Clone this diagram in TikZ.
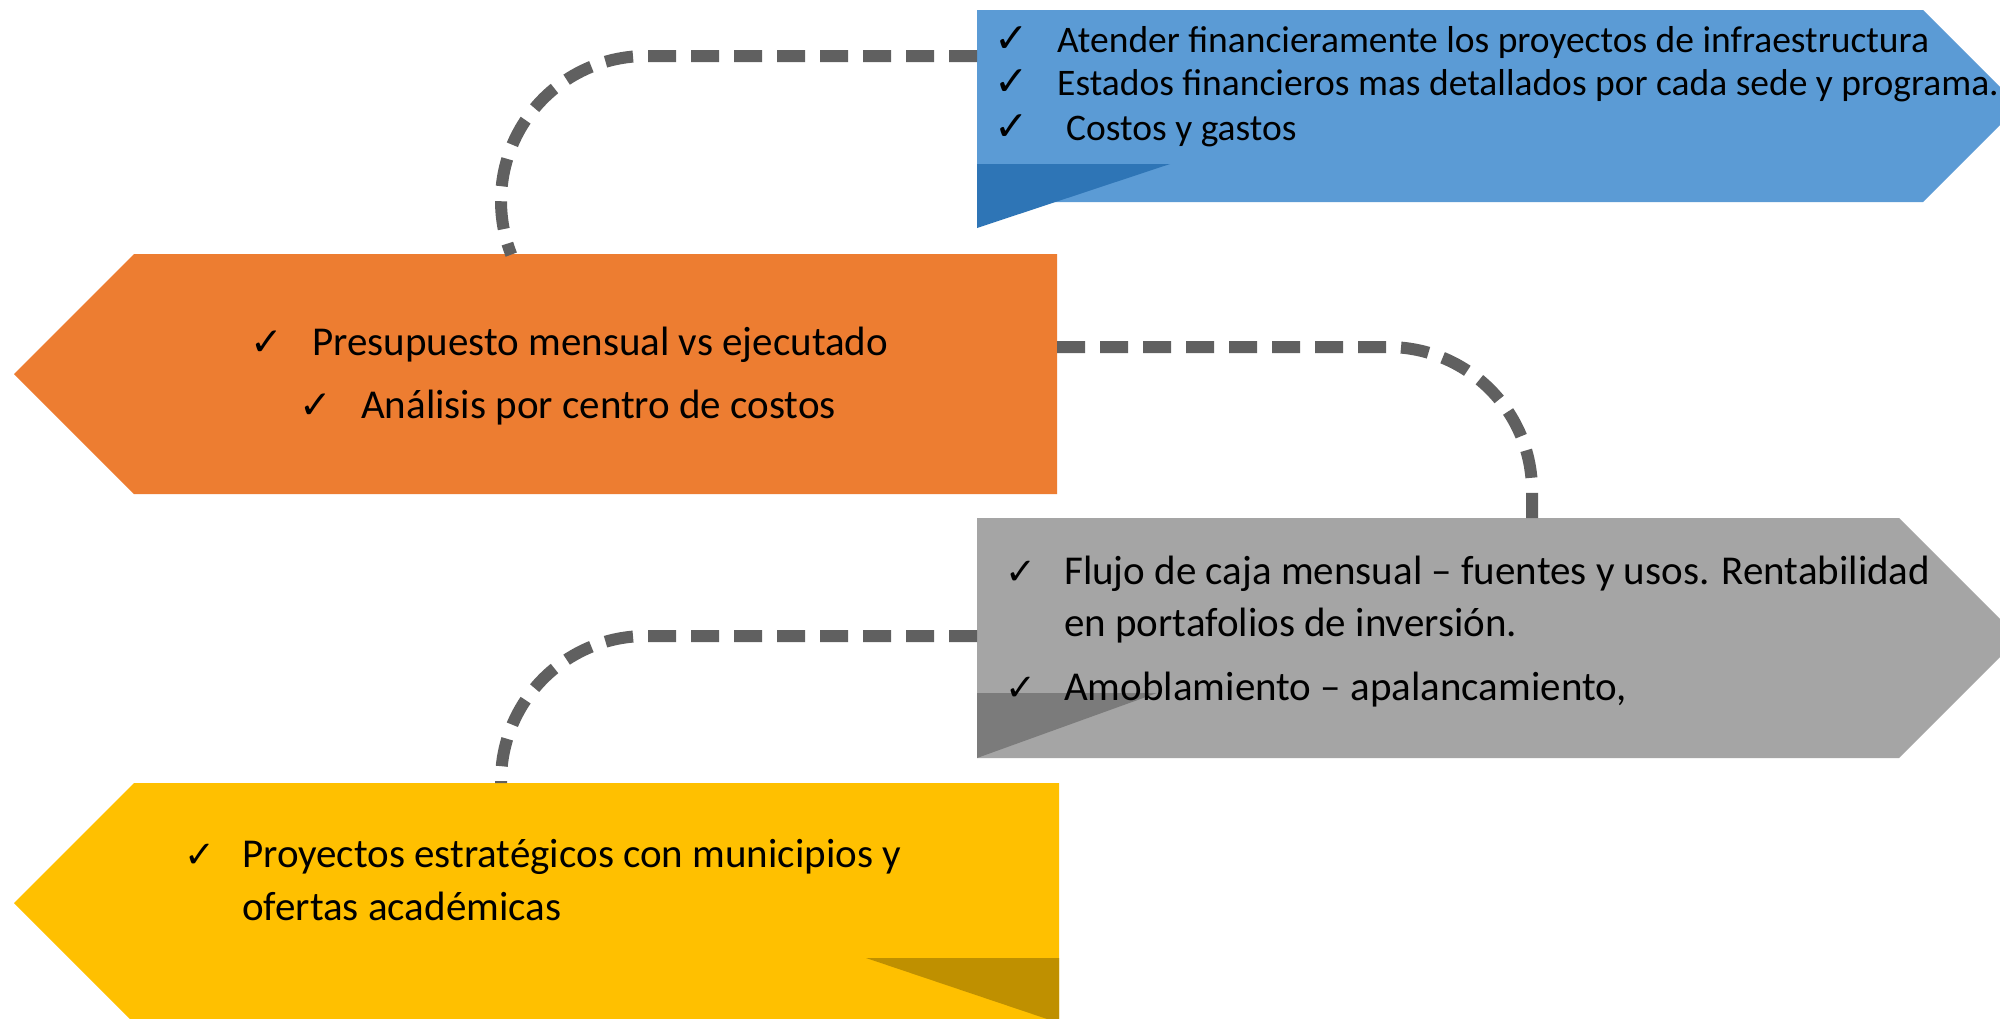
\documentclass[tikz,border=0pt]{standalone}
\usepackage{fontspec}
\setmainfont{Carlito}
\newfontfamily\chkfont{DejaVu Sans}
\usetikzlibrary{calc}
\definecolor{blueC}{HTML}{5B9BD5}
\definecolor{blueD}{HTML}{2E75B6}
\definecolor{orangeC}{HTML}{ED7D31}
\definecolor{grayC}{HTML}{A5A5A5}
\definecolor{grayD}{HTML}{7B7B7B}
\definecolor{yellowC}{HTML}{FFC000}
\definecolor{yellowD}{HTML}{BF9000}
\definecolor{connC}{HTML}{606060}
\begin{document}
\begin{tikzpicture}[x=1pt,y=-1pt,
  body/.style={inner sep=0pt,outer sep=0pt,draw=none},
  conn/.style={draw=connC,line width=12pt,dash pattern=on 28pt off 15pt,line cap=butt},
  txtA/.style={anchor=base west,inner sep=0pt,font=\fontsize{37.5}{44}\selectfont},
  txtB/.style={anchor=base west,inner sep=0pt,font=\fontsize{41}{50}\selectfont},
  chkA/.style={anchor=base west,inner sep=0pt,font=\chkfont\fontsize{41}{44}\selectfont},
  chkG/.style={anchor=base west,inner sep=0pt,font=\chkfont\fontsize{37}{44}\selectfont},
  chkB/.style={anchor=base west,inner sep=0pt,font=\chkfont\fontsize{39}{44}\selectfont}]
\clip (0,0) rectangle (2000,1018);
\fill[white] (0,0) rectangle (2000,1018);
% bodies
\node[body,minimum width=946pt,minimum height=192pt] (blue) at (1450,106) {};
\node[body,minimum width=923pt,minimum height=240pt] (orange) at (595.5,374) {};
\node[body,minimum width=922pt,minimum height=240pt] (gray) at (1438,638) {};
\node[body,minimum width=925pt,minimum height=240pt] (yellow) at (596.5,903) {};
% shapes
\fill[blueC] (blue.north west) -- (blue.north east) -- ++(96,96) -- (blue.south east) -- (blue.south west) -- cycle;
\fill[blueD] ($(blue.south west)+(0,-38)$) -- ++(193,0) -- ($(blue.south west)+(0,26)$) -- cycle;
\fill[orangeC] (orange.north east) -- (orange.south east) -- (orange.south west) -- ++(-120,-120) -- (orange.north west) -- cycle;
\fill[grayC] (gray.north west) -- (gray.north east) -- ++(120,120) -- (gray.south east) -- (gray.south west) -- cycle;
\fill[grayD] ($(gray.south west)+(0,-65)$) -- ++(180,0) -- (gray.south west) -- cycle;
\fill[yellowC] (yellow.north east) -- (yellow.south east) -- (yellow.south west) -- ++(-120,-120) -- (yellow.north west) -- cycle;
\fill[yellowD] ($(yellow.north east)+(-193,175)$) -- ($(yellow.north east)+(0,175)$) -- ($(yellow.north east)+(0,240)$) -- cycle;
% connectors
\draw[conn] ($(blue.north west)+(0,46)$) -- ++(-331,0) arc[start angle=90,end angle=201.7,radius=145pt];
\draw[conn] ($(orange.north east)+(0,93)$) -- ++(331,0) arc[start angle=90,end angle=0,radius=144pt] -- ++(0,27);
\draw[conn] ($(gray.north west)+(0,118)$) -- ++(-331,0) arc[start angle=90,end angle=180,radius=145pt] -- ++(0,2);
% blue text
\node[chkA] (bc1) at (994,52) {✓};
\node[txtA] (bt1) at (1057,52) {Atender financieramente los proyectos de infraestructura};
\node[chkA] (bc2) at (994,95) {✓};
\node[txtA] (bt2) at (1057,95) {Estados financieros mas detallados por cada sede y programa.};
\node[chkA] (bc3) at (994,140) {✓};
\node[txtA] (bt3) at (1066,140) {Costos y gastos};
% orange text
\node[chkB] (oc1) at (250,355) {✓};
\node[txtB] (ot1) at (312,355) {Presupuesto mensual vs ejecutado};
\node[chkB] (oc2) at (299,418) {✓};
\node[txtB] (ot2) at (361,418) {Análisis por centro de costos};
% gray text
\node[chkG] (gc1) at (1005,584) {✓};
\node[txtB] (gt1) at (1064,584) {Flujo de caja mensual – fuentes y usos. Rentabilidad};
\node[txtB] (gt2) at (1064,636) {en portafolios de inversión.};
\node[chkG] (gc3) at (1005,700) {✓};
\node[txtB] (gt3) at (1064,700) {Amoblamiento – apalancamiento,};
% yellow text
\node[chkG] (yc1) at (184,867) {✓};
\node[txtB] (yt1) at (242,867) {Proyectos estratégicos con municipios y};
\node[txtB] (yt2) at (242,920) {ofertas académicas};
\end{tikzpicture}
\end{document}
